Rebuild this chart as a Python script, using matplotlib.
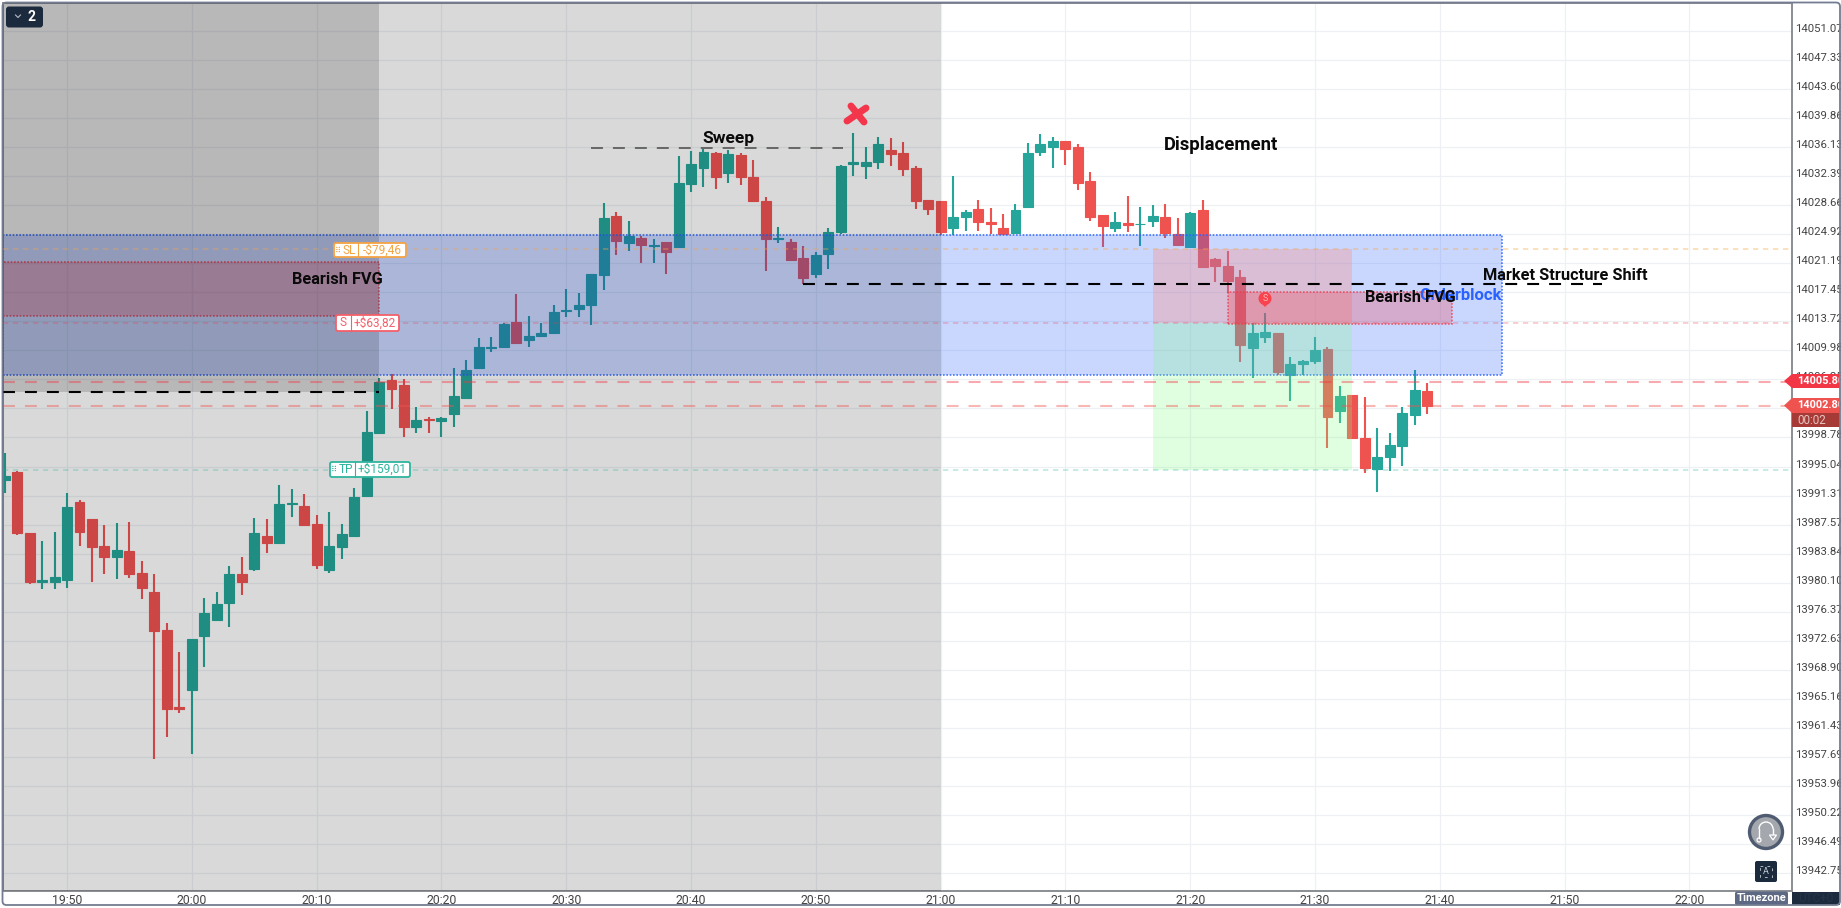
import matplotlib
matplotlib.use("Agg")
import matplotlib.pyplot as plt
import numpy as np
from matplotlib.patches import Rectangle, FancyBboxPatch, Circle, Polygon, Arc
from matplotlib.transforms import ScaledTranslation

plt.rcParams['font.family'] = ['Roboto', 'DejaVu Sans']
plt.rcParams['lines.scale_dashes'] = False

# minutes counted from 19:50, one candle per minute
first_minute = -5
opens = [13993.26, 13994.37, 13986.53, 13980.14, 13980.14, 13980.40, 13990.52, 13988.33, 13984.86, 13983.36,
         13984.22, 13981.39, 13978.94, 13974.06, 13964.16, 13966.26, 13973.20, 13975.26, 13977.44, 13981.26,
         13981.90, 13986.15, 13985.16, 13990.17, 13989.96, 13987.69, 13981.69, 13984.64, 13986.06, 13991.20,
         13999.30, 14006.16, 14005.51, 14000.07, 14001.18, 14000.84, 14001.74, 14003.80, 14007.66, 14010.27,
         14010.36, 14013.61, 14011.26, 14011.77, 14012.16, 14015.07, 14015.24, 14015.76, 14019.62, 14027.25,
         14023.73, 14024.38, 14023.43, 14023.90, 14023.22, 14031.32, 14033.38, 14035.39, 14032.73, 14035.09,
         14032.26, 14029.18, 14024.33, 14023.90, 14021.89, 14019.83, 14022.32, 14025.23, 14033.93, 14033.72,
         14034.23, 14035.73, 14035.39, 14033.42, 14029.31, 14029.18, 14025.66, 14027.16, 14028.15, 14026.48,
         14025.70, 14025.10, 14028.36, 14035.43, 14036.08, 14036.93, 14036.12, 14031.75, 14027.38, 14025.75,
         14026.35, 14026.18, 14026.65, 14027.16, 14024.93, 14023.30, 14028.02, 14021.72, 14020.82, 14019.40,
         14010.32, 14011.73, 14012.24, 14006.76, 14008.17, 14008.64, 14010.19, 14002.13, 14004.27, 13998.74,
         13994.67, 13996.30, 13997.71, 14001.70, 14004.79]
highs = [13996.73, 13994.50, 13986.53, 13985.50, 13986.66, 13991.67, 13990.69, 13988.33, 13987.56, 13987.82,
         13987.95, 13982.93, 13981.26, 13974.96, 13971.23, 13972.90, 13978.17, 13978.94, 13982.29, 13983.44,
         13988.46, 13988.25, 13992.70, 13992.10, 13991.55, 13988.84, 13989.23, 13987.65, 13992.32, 14002.22,
         14006.46, 14006.88, 14006.28, 14002.73, 14001.44, 14001.44, 14007.74, 14008.73, 14011.50, 14011.73,
         14013.53, 14017.25, 14014.43, 14013.53, 14015.80, 14017.86, 14017.39, 14019.79, 14028.96, 14027.80,
         14026.65, 14024.68, 14024.29, 14023.90, 14035.00, 14035.65, 14035.86, 14035.52, 14035.73, 14035.39,
         14034.45, 14029.65, 14025.88, 14024.29, 14023.43, 14022.62, 14025.75, 14033.85, 14037.96, 14036.16,
         14037.45, 14037.28, 14036.81, 14033.68, 14029.31, 14029.18, 14032.39, 14028.02, 14029.31, 14028.28,
         14027.50, 14028.79, 14036.68, 14037.83, 14037.45, 14036.93, 14036.51, 14032.95, 14027.38, 14027.80,
         14029.86, 14028.45, 14028.70, 14028.79, 14026.99, 14027.76, 14029.30, 14021.89, 14022.75, 14020.30,
         14013.44, 14014.82, 14012.24, 14009.12, 14008.73, 14011.73, 14010.44, 14005.43, 14004.27, 14004.02,
         14000.03, 13999.30, 14002.73, 14007.44, 14005.82]
lows = [13991.59, 13986.30, 13979.89, 13979.33, 13979.24, 13979.46, 13984.86, 13980.23, 13981.26, 13980.53,
        13980.74, 13977.96, 13957.38, 13960.21, 13963.30, 13958.07, 13969.30, 13975.26, 13974.44, 13978.56,
        13981.64, 13983.96, 13985.16, 13988.50, 13987.47, 13981.82, 13981.30, 13983.10, 13986.06, 13991.20,
        13999.30, 14002.38, 13998.87, 13999.38, 13999.30, 13998.87, 14000.16, 14003.80, 14007.66, 14009.80,
        14010.23, 14010.87, 14010.44, 14011.77, 14012.16, 14014.21, 14014.21, 14013.19, 14017.69, 14022.28,
        14022.79, 14021.25, 14021.25, 14019.83, 14023.22, 14030.38, 14031.02, 14030.76, 14031.53, 14031.23,
        14029.22, 14020.22, 14023.82, 14021.63, 14018.46, 14019.32, 14020.43, 14024.89, 14032.39, 14031.96,
        14033.33, 14033.68, 14032.43, 14028.11, 14027.42, 14024.80, 14024.85, 14025.32, 14025.32, 14024.89,
        14024.89, 14024.93, 14028.36, 14035.01, 14033.46, 14033.81, 14030.59, 14026.65, 14023.30, 14025.23,
        14025.23, 14023.43, 14025.79, 14024.46, 14023.43, 14023.17, 14020.73, 14018.72, 14017.30, 14008.50,
        14006.46, 14010.96, 14006.76, 14003.50, 14006.76, 14008.26, 13997.37, 14000.67, 13998.66, 13994.24,
        13991.80, 13994.50, 13995.10, 14000.41, 14001.83]
closes = [13993.82, 13986.53, 13980.23, 13980.40, 13980.87, 13989.87, 13986.57, 13984.64, 13983.36, 13984.34,
          13981.17, 13979.37, 13973.84, 13963.81, 13963.81, 13972.90, 13976.24, 13977.40, 13981.26, 13980.23,
          13986.53, 13985.16, 13990.22, 13990.35, 13987.47, 13982.33, 13984.82, 13986.36, 13991.12, 13999.48,
          14005.90, 14004.96, 14000.16, 14001.01, 14001.01, 14001.27, 14004.10, 14007.44, 14010.44, 14010.44,
          14013.36, 14010.87, 14011.81, 14012.16, 14014.90, 14015.16, 14015.80, 14019.79, 14027.00, 14024.08,
          14024.72, 14023.56, 14023.56, 14022.66, 14031.49, 14033.93, 14035.48, 14032.31, 14035.22, 14032.31,
          14029.22, 14024.25, 14024.46, 14021.63, 14019.32, 14022.23, 14025.15, 14033.68, 14034.19, 14034.15,
          14036.51, 14035.18, 14033.25, 14029.22, 14028.19, 14025.23, 14027.12, 14027.76, 14026.52, 14026.18,
          14024.89, 14028.02, 14035.35, 14036.51, 14036.89, 14035.91, 14031.53, 14027.16, 14025.92, 14026.48,
          14026.13, 14026.26, 14027.25, 14025.10, 14023.56, 14027.68, 14020.73, 14020.86, 14018.93, 14010.70,
          14012.16, 14012.33, 14007.23, 14008.22, 14008.64, 14010.02, 14001.36, 14004.10, 13998.66, 13994.80,
          13996.26, 13997.80, 14001.96, 14004.87, 14002.80]

price_ticks = [14051.07, 14047.33, 14043.60, 14039.86, 14036.13, 14032.39, 14028.66, 14024.92, 14021.19, 14017.45,
               14013.72, 14009.98, 14006.25, 14002.51, 13998.78, 13995.04, 13991.31, 13987.57, 13983.84, 13980.10,
               13976.37, 13972.63, 13968.90, 13965.16, 13961.43, 13957.69, 13953.96, 13950.22, 13946.49, 13942.75]
time_ticks = [0, 10, 20, 30, 40, 50, 60, 70, 80, 90, 100, 110, 120, 130]
time_labels = ['19:50', '20:00', '20:10', '20:20', '20:30', '20:40', '20:50', '21:00', '21:10', '21:20', '21:30',
               '21:40', '21:50', '22:00']

# levels and zones
orderblock = (14024.84, 14006.80)
fvg_left = (14021.29, 14014.39)
fvg_right = (14017.51, 14013.32)
sl_price = 14022.97
entry_price = 14013.53
tp_price = 13994.59
alert_price = 14005.95
last_price = 14002.80
sweep_price = 14036.03
mss_price = 14018.47
old_low_price = 14004.66

GREEN = '#26a69a'
RED = '#ef5350'
BLUE = '#2962ff'
FVG_RED = '#f23645'
NAVY = '#1c2a3e'

W, H = 1841, 908
fig = plt.figure(figsize=(W / 100, H / 100), dpi=100, facecolor='white')
L, R, T, B = 3, 1791.5, 3, 891
ax = fig.add_axes([L / W, 1 - B / H, (R - L) / W, (B - T) / H])
x_min, x_max = -5.13, 138.18
y_min, y_max = 13940.47, 14054.63
ax.set_xlim(x_min, x_max)
ax.set_ylim(y_min, y_max)
ax.set_axisbelow(True)

ax.set_xticks(time_ticks)
ax.set_xticklabels(time_labels, fontsize=8.8, color='#444444')
ax.yaxis.tick_right()
ax.set_yticks(price_ticks)
ax.set_yticklabels(['%.2f' % p for p in price_ticks], fontsize=8.2, color='#444444')
ax.tick_params(length=0)
ax.tick_params(axis='x', pad=2)
ax.tick_params(axis='y', pad=2.5)
shift = ScaledTranslation(0, 3 / 100, fig.dpi_scale_trans)
for lbl in ax.get_yticklabels():
    lbl.set_transform(lbl.get_transform() + shift)
ax.grid(True, color='#eef0f4', lw=0.9)
for name, sp in ax.spines.items():
    sp.set_color('#8a8d92')
    sp.set_linewidth(1.4)

# candles
minutes = np.arange(len(opens)) + first_minute
opens_a, highs_a, lows_a, closes_a = map(np.array, (opens, highs, lows, closes))
colors = [GREEN if c >= o else RED for o, c in zip(opens_a, closes_a)]
ax.vlines(minutes, lows_a, highs_a, colors=colors, lw=1.5, zorder=2)
ax.bar(minutes, np.abs(closes_a - opens_a), bottom=np.minimum(opens_a, closes_a), width=0.8,
       color=colors, edgecolor=colors, linewidth=0.8, zorder=2.1)

# order block sits under the position box
ax.add_patch(Rectangle((x_min, orderblock[1]), 120.13, orderblock[0] - orderblock[1], facecolor=BLUE, alpha=0.25,
                       edgecolor='none', zorder=2.8))
ax.add_patch(Rectangle((x_min, orderblock[1]), 120.13, orderblock[0] - orderblock[1], fill=False, edgecolor=BLUE,
                       alpha=0.85, ls=(0, (1.2, 1.2)), lw=1.2, zorder=2.9))

# short position box, 21:17 to 21:33
ax.add_patch(Rectangle((87, entry_price), 16, sl_price - entry_price, facecolor=(1, 0.52, 0.48), alpha=0.3,
                       edgecolor='none', zorder=3))
ax.add_patch(Rectangle((87, tp_price), 16, entry_price - tp_price, facecolor=(0.52, 1, 0.52), alpha=0.25,
                       edgecolor='none', zorder=3))

# fair value gaps
for x0, x1, (top, bot) in [(x_min, 25, fvg_left), (93, 111, fvg_right)]:
    ax.add_patch(Rectangle((x0, bot), x1 - x0, top - bot, facecolor=FVG_RED, alpha=0.27, edgecolor='none', zorder=3.4))
    ax.add_patch(Rectangle((x0, bot), x1 - x0, top - bot, fill=False, edgecolor=FVG_RED, alpha=0.8,
                           ls=(0, (1.2, 1.2)), lw=1.1, zorder=3.5))

# session shading, the darker block stops at the old low line
ax.axvspan(x_min, 70, color='black', alpha=0.15, lw=0, zorder=4)
ax.add_patch(Rectangle((x_min, old_low_price), 25 - x_min, y_max - old_low_price, facecolor='black', alpha=0.15,
                       edgecolor='none', zorder=4))

# price levels
xr = (x_min, x_max)
ax.plot(xr, [sl_price] * 2, color='#f7a541', alpha=0.4, lw=1.2, ls=(0, (3.8, 3.4)), zorder=5)
ax.plot(xr, [entry_price] * 2, color=FVG_RED, alpha=0.28, lw=1.2, ls=(0, (3.8, 3.4)), zorder=5)
ax.plot(xr, [tp_price] * 2, color='#26b39a', alpha=0.3, lw=1.2, ls=(0, (3.8, 3.4)), zorder=5)
ax.plot(xr, [alert_price] * 2, color=FVG_RED, alpha=0.42, lw=1.5, ls=(0, (8.6, 7.2)), zorder=5)
ax.plot(xr, [last_price] * 2, color=RED, alpha=0.42, lw=1.5, ls=(0, (8.6, 7.2)), zorder=5)

# drawn structure lines
ax.plot([x_min, 25], [old_low_price] * 2, color='black', lw=1.5, ls=(0, (8.6, 7.2)), zorder=6)
ax.plot([59, 123], [mss_price] * 2, color='black', lw=1.5, ls=(0, (8.6, 7.2)), zorder=6)
ax.plot([42, 62.2], [sweep_price] * 2, color='#666666', lw=1.4, ls=(0, (8.6, 7.2)), zorder=6)

# overlay in pixel coordinates for the chart furniture and notes
ov = fig.add_axes([0, 0, 1, 1], facecolor='none')
ov.set_xlim(0, W)
ov.set_ylim(H, 0)
ov.axis('off')


def note(x, y, s, color='#0a0a0a', size=12, ha='center'):
    ov.text(x, y, s, color=color, fontsize=size, fontweight='bold', ha=ha, va='center')


def tag(x0, x1, xdiv, y0, y1, color, left, right, grip=True):
    ov.add_patch(FancyBboxPatch((x0, y0), x1 - x0, y1 - y0, boxstyle='round,pad=0,rounding_size=2',
                                facecolor='white', edgecolor=color, lw=1.3, zorder=8))
    ov.plot([xdiv, xdiv], [y0, y1], color=color, lw=0.8, zorder=9)
    tx = (x0 + xdiv) / 2
    if grip:
        ov.text(x0 + 4, (y0 + y1) / 2, '⠿', color=color, fontsize=6, ha='center', va='center',
                family='DejaVu Sans', zorder=9)
        tx += 3
    ov.text(tx, (y0 + y1) / 2, left, color=color, fontsize=8.6, ha='center', va='center', zorder=9)
    ov.text((xdiv + x1) / 2, (y0 + y1) / 2, right, color=color, fontsize=8.6, ha='center', va='center', zorder=9)


note(728, 138.5, 'Sweep', size=12.5)
note(1221, 144.5, 'Displacement', size=13.3)
note(337.5, 279, 'Bearish FVG', size=11.8)
note(1461, 295, 'Orderblock', color=BLUE, size=12)
note(1410, 298, 'Bearish FVG', size=11.8)
note(1565.5, 275, 'Market Structure Shift', size=11.8)

tag(334, 406, 358, 243, 257, '#f5a443', 'SL', '-$79,46')
tag(336, 399, 351, 315, 331, '#f4606a', 'S', '+$63,82', grip=False)
tag(330, 410, 355, 462, 477, '#2fb59e', 'TP', '+$159,01')

# red cross over the swept high
ov.plot([851, 864], [106, 122], color='#f4364c', lw=5, solid_capstyle='round')
ov.plot([866, 847], [108, 121], color='#f4364c', lw=5, solid_capstyle='round')

# sell marker
ov.add_patch(Circle((1265, 298.5), 6.5, facecolor='#f9434f', edgecolor='none', zorder=7))
ov.add_patch(Polygon([[1261, 303], [1269, 303], [1265, 307]], facecolor='#f9434f', edgecolor='none', zorder=7))
ov.text(1265, 298.5, 'S', color='#ffb3b3', fontsize=6.5, ha='center', va='center', zorder=8)

# price labels on the right
ov.add_patch(Polygon([[1784, 381], [1792, 374], [1840, 374], [1840, 388], [1792, 388]], facecolor='#f23645',
                     edgecolor='none', zorder=8))
ov.text(1797, 381, '14005.80', color='white', fontsize=7.9, fontweight='bold', va='center', zorder=9)
ov.add_patch(Polygon([[1784, 405.5], [1792, 398], [1840, 398], [1840, 413], [1792, 413]], facecolor=RED,
                     edgecolor='none', zorder=8))
ov.text(1797, 405.5, '14002.80', color='white', fontsize=7.9, fontweight='bold', va='center', zorder=9)
ov.add_patch(Rectangle((1792, 413), 48, 14, facecolor='#a63a36', edgecolor='none', zorder=8))
ov.text(1797, 420, '00:02', color='#e6c4c0', fontsize=8.4, va='center', zorder=9)

# bottom right corner
ov.add_patch(FancyBboxPatch((1735, 891.5), 53, 13.5, boxstyle='round,pad=0,rounding_size=2', facecolor='#5d6884',
                            edgecolor='none', zorder=8))
ov.text(1761.5, 898, 'Timezone', color='white', fontsize=8, fontweight='bold', ha='center', va='center', zorder=9)
ov.add_patch(Rectangle((1792, 891.5), 48, 13.5, facecolor=NAVY, edgecolor='none', zorder=8))
ov.text(1816, 898, 'UTC+0', color='#26344b', fontsize=8.5, ha='center', va='center', zorder=9)

# undo button
ov.add_patch(Circle((1766, 832), 16.5, facecolor='#a4a8ae', edgecolor='#4f5b70', lw=2.4, zorder=8))
ov.add_patch(Arc((1766, 829), 14, 14, theta1=180, theta2=360, color='white', lw=1, zorder=9))
ov.plot([1759, 1759], [829, 838], color='white', lw=1, zorder=9)
ov.plot([1773, 1773], [829, 834], color='white', lw=1, zorder=9)
ov.add_patch(Circle((1759, 840), 2, facecolor='none', edgecolor='white', lw=0.9, zorder=9))
ov.add_patch(Polygon([[1769.5, 835], [1776.5, 835], [1773, 840]], facecolor='none', edgecolor='white', lw=0.9, zorder=9))

# text scan button
ov.add_patch(FancyBboxPatch((1755, 861), 22, 21, boxstyle='round,pad=0,rounding_size=2', facecolor=NAVY,
                            edgecolor='none', zorder=8))
ov.add_patch(Rectangle((1760, 866), 12, 11, fill=False, edgecolor='#c8ccd2', lw=0.6, ls=(0, (2, 3)), zorder=9))
ov.text(1766, 871.5, 'A', color='#c8ccd2', fontsize=6.5, ha='center', va='center', zorder=9)

# pane badge
ov.add_patch(FancyBboxPatch((6, 6.5), 37, 21, boxstyle='round,pad=0,rounding_size=3', facecolor=NAVY,
                            edgecolor='none', zorder=8))
ov.plot([15.5, 18, 20.5], [15, 17.5, 15], color='#b6bcc6', lw=0.8, zorder=9)
ov.text(32, 17, '2', color='white', fontsize=10, fontweight='bold', ha='center', va='center', zorder=9)

# outer frame
ov.add_patch(FancyBboxPatch((2.5, 2.5), 1837.5, 902.5, boxstyle='round,pad=0,rounding_size=4', fill=False,
                            edgecolor='#737c90', lw=1.3, zorder=10))

fig.savefig('out.png', dpi=100)
